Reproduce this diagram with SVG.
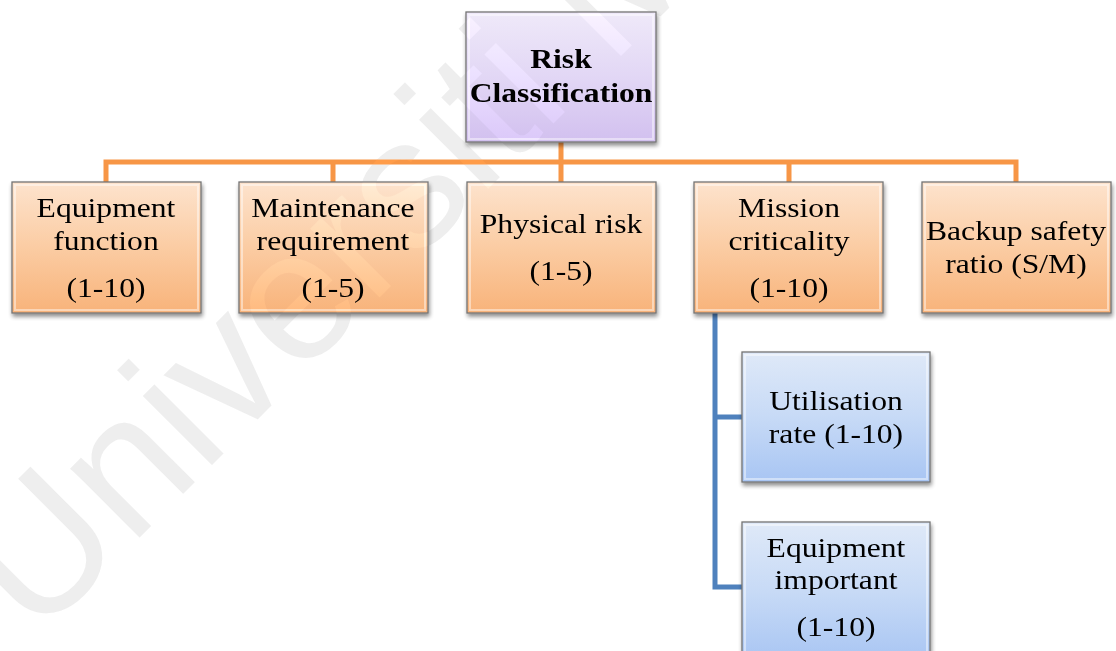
<svg xmlns="http://www.w3.org/2000/svg" width="1116" height="651" viewBox="0 0 1116 651">
  <defs>
    <linearGradient id="gPurple" x1="0" y1="0" x2="0" y2="1">
      <stop offset="0" stop-color="#efe9f9"/>
      <stop offset="0.5" stop-color="#e2d7f5"/>
      <stop offset="1" stop-color="#d2c0ef"/>
    </linearGradient>
    <linearGradient id="gOrange" x1="0" y1="0" x2="0" y2="1">
      <stop offset="0" stop-color="#fde3cd"/>
      <stop offset="0.5" stop-color="#fbcca3"/>
      <stop offset="1" stop-color="#f8b37a"/>
    </linearGradient>
    <linearGradient id="gBlue" x1="0" y1="0" x2="0" y2="1">
      <stop offset="0" stop-color="#dfe9f8"/>
      <stop offset="0.5" stop-color="#c7daf6"/>
      <stop offset="1" stop-color="#a8c5f3"/>
    </linearGradient>
    <filter id="shadow" x="-10%" y="-10%" width="125%" height="130%">
      <feGaussianBlur in="SourceAlpha" stdDeviation="2"/>
      <feOffset dx="1" dy="3" result="b"/>
      <feComponentTransfer><feFuncA type="linear" slope="0.45"/></feComponentTransfer>
      <feMerge><feMergeNode/><feMergeNode in="SourceGraphic"/></feMerge>
    </filter>
    <!-- diagonal watermark lettering, reused for the paper layer and the tint layer -->
    <text id="wmText" class="wm" transform="translate(36 641) rotate(-45)">Universiti M</text>
  </defs>
  <style>
    .box{stroke:#757575;stroke-width:1.3;filter:url(#shadow)}
    .gloss{fill:none;stroke:#ffffff;stroke-opacity:0.45;stroke-width:2}
    .purple{fill:url(#gPurple)}
    .orange{fill:url(#gOrange)}
    .blue{fill:url(#gBlue)}
    .t{font-family:"Liberation Serif","Times New Roman",serif;font-size:28px;fill:#000;text-anchor:middle}
    .b{font-weight:bold}
    .lo{fill:none;stroke:#f79646;stroke-width:5}
    .lb{fill:none;stroke:#4f81bd;stroke-width:5}
    .wm{font-family:"Liberation Sans",Arial,sans-serif;font-size:185px}
    .wm-paper{fill:#e5e5e5}
    .wm-tint{fill:#0a0a0a;mix-blend-mode:color-dodge}
  </style>
  <rect width="1116" height="651" fill="#ffffff"/>

  <!-- watermark on the page -->
  <g id="watermark" class="wm-paper">
    <use href="#wmText"/>
  </g>

  <!-- connectors -->
  <g id="connectors">
    <path class="lo" d="M561 142 V182 M106 182 V162 H1016 V182 M333 162 V182 M789 162 V182"/>
    <path class="lb" d="M715 313 V587 H742 M715 417 H742"/>
  </g>

  <!-- top node -->
  <g id="risk-classification">
    <rect class="box purple" x="466" y="12" width="190" height="130"/>
    <rect class="gloss" x="469" y="15" width="184" height="124"/>
    <text class="t b" transform="matrix(1.13 0 0 1 561 0)"><tspan x="0" y="68">Risk</tspan><tspan x="0" y="102">Classification</tspan></text>
  </g>

  <!-- second level -->
  <g id="equipment-function">
    <rect class="box orange" x="12" y="182" width="189" height="131"/>
    <rect class="gloss" x="15" y="185" width="183" height="125"/>
    <text class="t" transform="matrix(1.13 0 0 1 106 0)"><tspan x="0" y="217">Equipment</tspan><tspan x="0" y="250">function</tspan><tspan x="0" y="297">(1-10)</tspan></text>
  </g>
  <g id="maintenance-requirement">
    <rect class="box orange" x="239" y="182" width="189" height="131"/>
    <rect class="gloss" x="242" y="185" width="183" height="125"/>
    <text class="t" transform="matrix(1.13 0 0 1 333 0)"><tspan x="0" y="217">Maintenance</tspan><tspan x="0" y="250">requirement</tspan><tspan x="0" y="297">(1-5)</tspan></text>
  </g>
  <g id="physical-risk">
    <rect class="box orange" x="467" y="182" width="189" height="131"/>
    <rect class="gloss" x="470" y="185" width="183" height="125"/>
    <text class="t" transform="matrix(1.13 0 0 1 561 0)"><tspan x="0" y="233">Physical risk</tspan><tspan x="0" y="280">(1-5)</tspan></text>
  </g>
  <g id="mission-criticality">
    <rect class="box orange" x="694" y="182" width="189" height="131"/>
    <rect class="gloss" x="697" y="185" width="183" height="125"/>
    <text class="t" transform="matrix(1.13 0 0 1 789 0)"><tspan x="0" y="217">Mission</tspan><tspan x="0" y="250">criticality</tspan><tspan x="0" y="297">(1-10)</tspan></text>
  </g>
  <g id="backup-safety-ratio">
    <rect class="box orange" x="922" y="182" width="189" height="131"/>
    <rect class="gloss" x="925" y="185" width="183" height="125"/>
    <text class="t" transform="matrix(1.13 0 0 1 1016 0)"><tspan x="0" y="240">Backup safety</tspan><tspan x="0" y="273">ratio (S/M)</tspan></text>
  </g>

  <!-- third level under mission criticality -->
  <g id="utilisation-rate">
    <rect class="box blue" x="742" y="352" width="188" height="130"/>
    <rect class="gloss" x="745" y="355" width="182" height="124"/>
    <text class="t" transform="matrix(1.13 0 0 1 836 0)"><tspan x="0" y="410">Utilisation</tspan><tspan x="0" y="443">rate (1-10)</tspan></text>
  </g>
  <g id="equipment-important">
    <rect class="box blue" x="742" y="522" width="188" height="140"/>
    <rect class="gloss" x="745" y="525" width="182" height="134"/>
    <text class="t" transform="matrix(1.13 0 0 1 836 0)"><tspan x="0" y="557">Equipment</tspan><tspan x="0" y="589">important</tspan><tspan x="0" y="636">(1-10)</tspan></text>
  </g>

  <!-- watermark tint over the shapes; dodge blending leaves black lettering black -->
  <g id="watermark-tint" class="wm-tint">
    <use href="#wmText"/>
  </g>
</svg>
